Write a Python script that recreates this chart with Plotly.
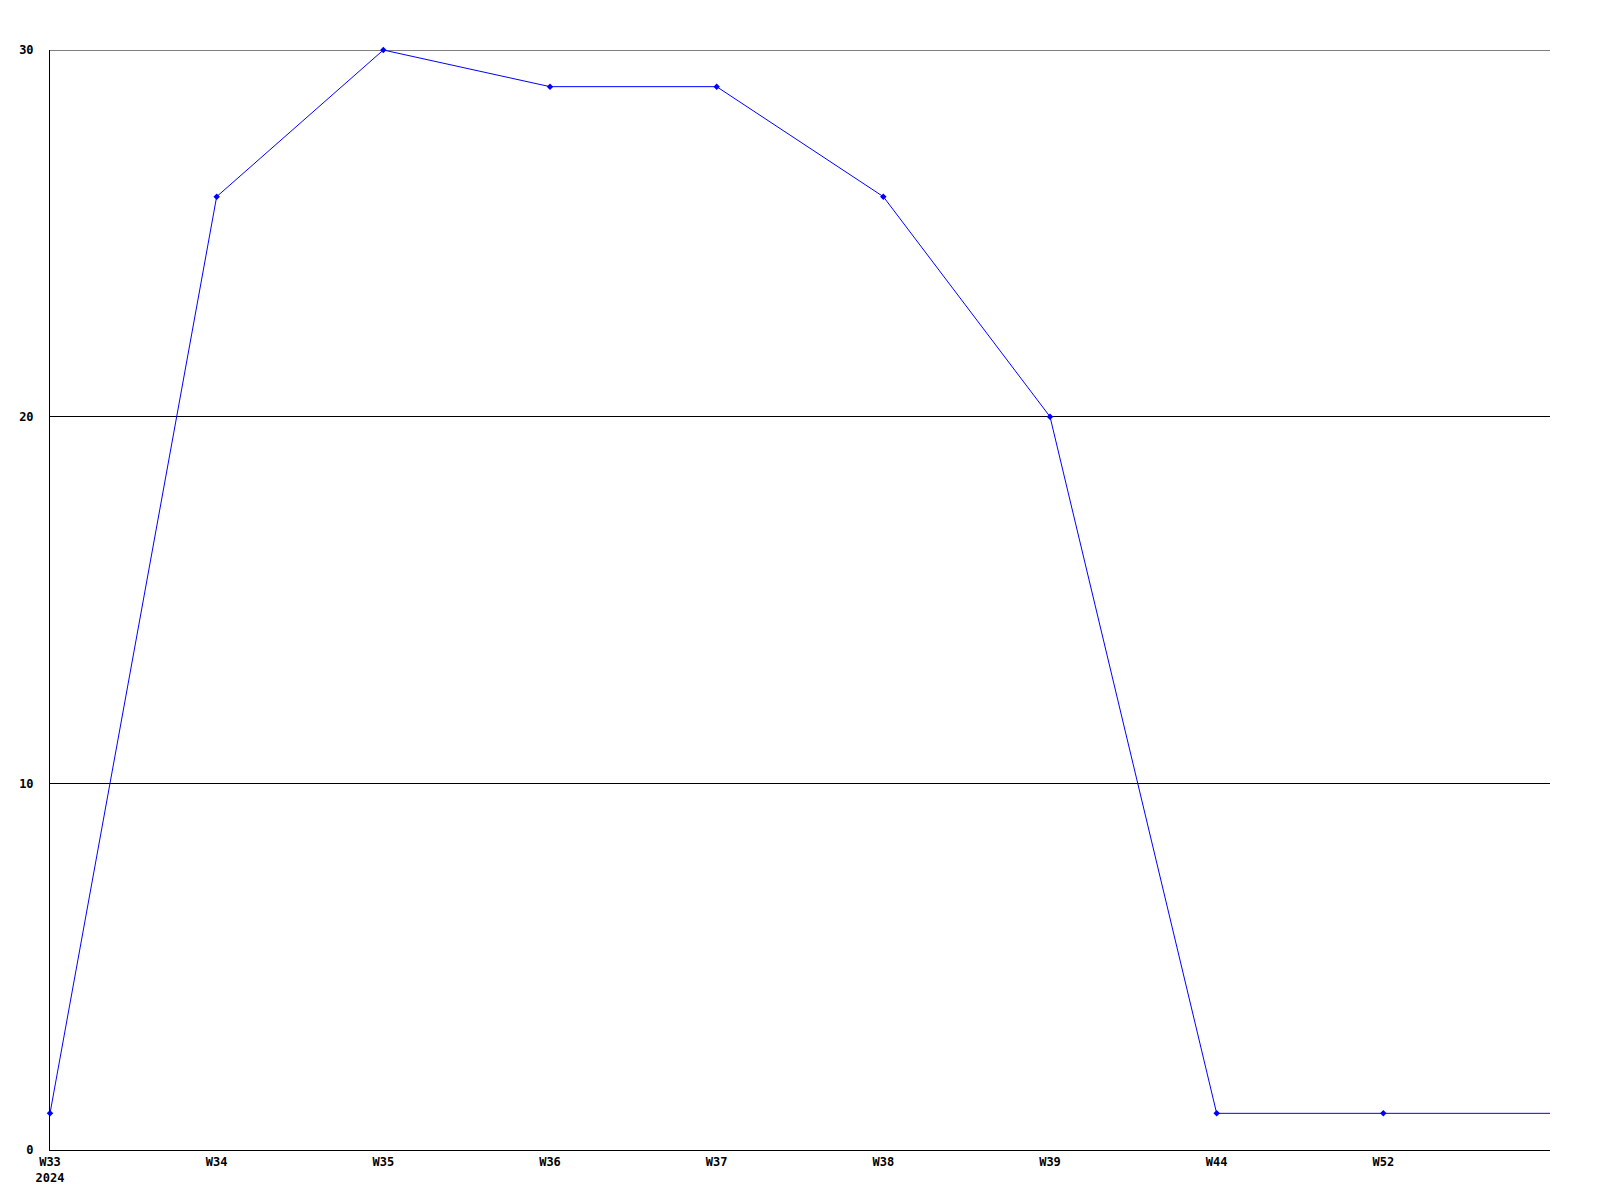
import plotly.graph_objects as go

weeks = ["W33", "W34", "W35", "W36", "W37", "W38", "W39", "W44", "W52"]
tick_labels = ["W33<br>2024", "W34", "W35", "W36", "W37", "W38", "W39", "W44", "W52"]
values = [1, 26, 30, 29, 29, 26, 20, 1, 1]
y_ticks = [0, 10, 20, 30]

xs = list(range(len(weeks)))
tfont = dict(family="DejaVu Sans Mono", size=12, color="black", weight="bold")

fig = go.Figure()
# continuation of last value to the right edge
fig.add_trace(go.Scatter(
    x=[xs[-1], len(weeks)], y=[values[-1], values[-1]], mode="lines",
    line=dict(color="#0000ff", width=1), hoverinfo="skip", cliponaxis=False))
fig.add_trace(go.Scatter(
    x=xs, y=values, mode="lines+markers",
    line=dict(color="#0000ff", width=1),
    marker=dict(color="#0000ff", size=5, symbol="diamond"),
    cliponaxis=False))

# top gridline (plotly hides gridline at range edge)
fig.add_shape(type="line", xref="paper", x0=0, x1=1, yref="y",
              y0=max(y_ticks), y1=max(y_ticks), line=dict(color="black", width=1),
              layer="below")

fig.update_layout(
    width=1600, height=1200,
    margin=dict(l=42, r=58, t=42, b=58),
    paper_bgcolor="white", plot_bgcolor="white",
    showlegend=False,
    xaxis=dict(range=[0, len(weeks)], tickvals=xs, ticktext=tick_labels,
               showgrid=False, zeroline=False, showline=True, linecolor="black",
               linewidth=1, ticks="", tickfont=tfont, ticklabelstandoff=1,
               automargin=False),
    yaxis=dict(range=[0, 30], tickvals=y_ticks, showgrid=True, gridcolor="black",
               gridwidth=1, zeroline=False, showline=True, linecolor="black",
               linewidth=1, ticks="", tickfont=tfont, ticklabelstandoff=13,
               automargin=False),
)

fig.write_html("out.html")
